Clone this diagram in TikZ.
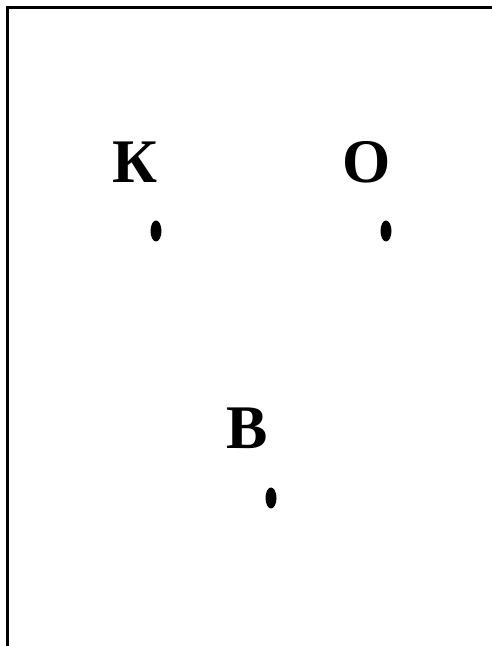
\documentclass[tikz,border=0pt]{standalone}
\usepackage{fontspec}
\setmainfont{Liberation Serif}
\tikzset{
  lbl/.style={anchor=base, inner sep=0pt, font=\bfseries\fontsize{62}{62}\selectfont},
  pt/.style={fill=black, draw=none, ellipse, minimum width=11pt, minimum height=21pt, inner sep=0pt},
  frame/.style={line width=2.8pt, line cap=butt}
}
\usetikzlibrary{shapes.geometric}
\begin{document}
\begin{tikzpicture}[x=1pt,y=1pt]
\useasboundingbox (0,0) rectangle (492,646);
\coordinate (tl) at (7.5,638.5);
\coordinate (tr) at (492,638.5);
\coordinate (bl) at (7.5,0);
\draw[frame] (6.1,638.5) -- (tr);
\draw[frame] (tl) -- (bl);
\node[lbl] (K) at (135,646-183) {К};
\node[lbl] (O) at (366.5,646-183) {О};
\node[lbl] (B) at (247.5,646-449) {В};
\node[pt] (pK) at (156,646-231) {};
\node[pt] (pO) at (386,646-231) {};
\node[pt] (pB) at (271,646-498) {};
\end{tikzpicture}
\end{document}
